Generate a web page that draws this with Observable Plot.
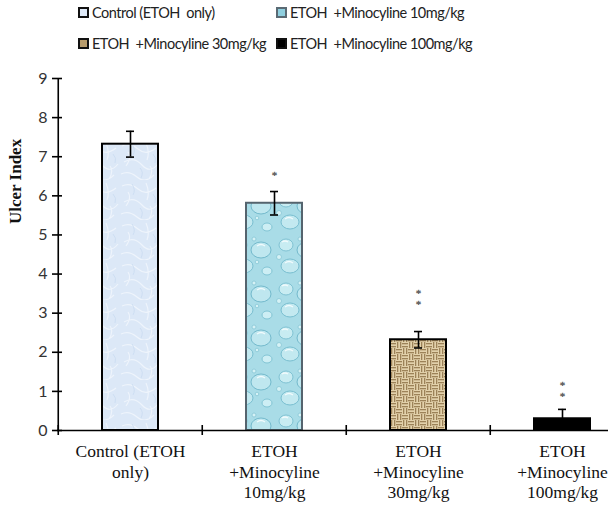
<!DOCTYPE html>
<html>
<head>
<meta charset="utf-8">
<script src="https://cdn.jsdelivr.net/npm/d3@7"></script>
<script src="https://cdn.jsdelivr.net/npm/@observablehq/plot@0.6"></script>
<style>
  html, body { margin: 0; padding: 0; background: #fff; }
  #wrap { position: relative; width: 613px; }
  #legend { position: relative; width: 613px; height: 60px; font-family: Lato, "Open Sans", sans-serif; font-size: 14.5px; letter-spacing: -0.5px; color: #222; }
  .item { position: absolute; display: flex; align-items: center; white-space: pre; }
  .sw { width: 7px; height: 7px; border: 2px solid #111; margin-right: 3px; }
</style>
</head>
<body>
<div id="wrap">
  <div id="legend"></div>
  <div id="chart"></div>
</div>
<script>
const categories = ["Control (ETOH\nonly)", "ETOH\n+Minocyline\n10mg/kg", "ETOH\n+Minocyline\n30mg/kg", "ETOH\n+Minocyline\n100mg/kg"];
const values = [7.32, 5.81, 2.32, 0.30];
const errors = [0.33, 0.30, 0.21, 0.24];
const starCounts = [0, 1, 2, 2];
const starY = [null, 6.57, 3.40, 1.06];
const yTicks = [0, 1, 2, 3, 4, 5, 6, 7, 8, 9];
const legendLabels = ["Control (ETOH  only)", "ETOH  +Minocyline 10mg/kg", "ETOH  +Minocyline 30mg/kg", "ETOH  +Minocyline 100mg/kg"];
const fills = ["url(#pat1)", "url(#pat2)", "url(#pat3)", "#000"];
const strokes = ["#000", "#55646e", "#000", "#000"];
const swatchColors = ["#dfeaf8", "#8fcfdf", "#b89c6c", "#000"];
const swatchBorders = ["#111", "#5a6a74", "#111", "#111"];

const data = categories.map((c, i) => ({
  cat: c, value: values[i], err: errors[i], stars: starCounts[i], starY: starY[i],
  fill: fills[i], stroke: strokes[i]
}));

// legend
const legendPos = [[78, 14], [276, 14], [78, 45], [276, 45]];
const legend = document.getElementById("legend");
legendLabels.forEach((t, i) => {
  const it = document.createElement("div");
  it.className = "item";
  it.style.left = legendPos[i][0] + "px";
  it.style.top = (legendPos[i][1] - 10) + "px";
  const sw = document.createElement("div");
  sw.className = "sw";
  sw.style.background = swatchColors[i];
  sw.style.borderColor = swatchBorders[i];
  const tx = document.createElement("span");
  tx.textContent = t;
  it.appendChild(sw); it.appendChild(tx);
  legend.appendChild(it);
});

const W = 613, H = 446;
const x0 = 57, x1 = 635;
const step = (x1 - x0) / categories.length;

const single = data.filter(d => d.stars === 1);
const double = data.filter(d => d.stars === 2);
const starStyle = {x: "cat", y: "starY", text: () => "*", fontFamily: "Liberation Serif", fontSize: 11, fill: "#555", stroke: "#555", strokeWidth: 0.3};

const chart = Plot.plot({
  width: W,
  height: H,
  marginLeft: 57,
  marginRight: 5,
  marginTop: 18,
  marginBottom: 76,
  style: {background: "#fff", overflow: "visible"},
  x: {domain: categories, range: [x0, x1], paddingInner: 0.6125, paddingOuter: 0.30625, label: null},
  y: {domain: [0, 9], label: null},
  color: {type: "identity"},
  marks: [
    Plot.barY(data, {x: "cat", y: "value", fill: "fill", stroke: "stroke", strokeWidth: 2}),
    Plot.ruleX(data, {x: "cat", y1: d => d.value - d.err, y2: d => d.value + d.err, stroke: "#000", strokeWidth: 1.6}),
    Plot.tickY(data, {x: "cat", y: d => d.value - d.err, stroke: "#000", strokeWidth: 1.6, insetLeft: 24, insetRight: 24}),
    Plot.tickY(data, {x: "cat", y: d => d.value + d.err, stroke: "#000", strokeWidth: 1.6, insetLeft: 24, insetRight: 24}),
    Plot.text(single, {...starStyle, dy: 2}),
    Plot.text(double, {...starStyle, dy: -4}),
    Plot.text(double, {...starStyle, dy: 7}),
    Plot.ruleY([0], {stroke: "#000", strokeWidth: 1.6}),
    Plot.ruleX([categories[0]], {y1: 0, y2: 9, dx: -step / 2, stroke: "#000", strokeWidth: 1.6}),
    Plot.ruleX(categories, {y1: 0, y2: 0, dx: -step / 2, insetTop: -5, insetBottom: -5, stroke: "#000", strokeWidth: 1.6}),
    Plot.axisY({ticks: yTicks, tickSize: 10, dx: 5, tickPadding: 5, strokeWidth: 1.6, stroke: "#000", fontSize: 16, fontFamily: "Lato, sans-serif", fill: "#333", label: null}),
    Plot.axisX({tickSize: 0, tickPadding: 12, fontSize: 17.5, fontFamily: "Liberation Serif", lineHeight: 1.17, fill: "#111", label: null}),
    Plot.text(["Ulcer Index"], {frameAnchor: "left", rotate: -90, dx: -42, dy: -30.5, fontFamily: "Liberation Serif", fontWeight: "bold", fontSize: 17, fill: "#111"})
  ]
});

// decorative fill patterns
const defs = `
<defs>
  <pattern id="pat1" patternUnits="userSpaceOnUse" width="40" height="40">
    <rect width="40" height="40" fill="#dce8f7"/>
    <path d="M2 6 Q10 2 18 9 T36 8 M4 22 Q14 16 22 25 T38 24 M1 34 Q9 30 17 37 T34 35 M8 12 Q12 18 6 26 M26 3 Q30 12 27 20 M30 26 Q34 31 29 39" stroke="#eef4fc" stroke-width="1.2" fill="none"/>
    <path d="M12 4 Q16 10 13 15 M20 28 Q24 32 21 38 M33 14 Q37 18 35 23" stroke="#c9daf0" stroke-width="0.8" fill="none"/>
  </pattern>
  <pattern id="pat2" patternUnits="userSpaceOnUse" width="46" height="44">
    <rect width="46" height="44" fill="#a9dce7"/>
    <ellipse cx="10" cy="9" rx="7" ry="6" fill="#c8ecf2" stroke="#7fc2d3" stroke-width="1"/>
    <ellipse cx="31" cy="14" rx="10" ry="8" fill="#bfe7ef" stroke="#72b9cc" stroke-width="1"/>
    <ellipse cx="14" cy="30" rx="9" ry="7" fill="#c3e9f0" stroke="#78bed0" stroke-width="1"/>
    <ellipse cx="37" cy="35" rx="5" ry="4" fill="#cdeef4" stroke="#80c4d4" stroke-width="1"/>
    <circle cx="24" cy="3" r="2" fill="#d6f2f6" stroke="#86c7d6" stroke-width="0.8"/>
    <circle cx="3" cy="21" r="2.5" fill="#d6f2f6" stroke="#86c7d6" stroke-width="0.8"/>
    <circle cx="27" cy="26" r="1.8" fill="#d6f2f6" stroke="#86c7d6" stroke-width="0.8"/>
    <path d="M27 10 q4 -3 8 0 M9 27 q4 -3 8 0 M6 6 q3 -2 6 0" stroke="#f2fbfd" stroke-width="1.3" fill="none"/>
  </pattern>
  <pattern id="pat3" patternUnits="userSpaceOnUse" width="12" height="12">
    <rect width="12" height="12" fill="#e2d1ab"/>
    <rect x="0" y="1" width="6" height="1.3" fill="#9c8258"/>
    <rect x="0" y="4" width="6" height="1.3" fill="#9c8258"/>
    <rect x="7" y="0" width="1.3" height="6" fill="#9c8258"/>
    <rect x="10" y="0" width="1.3" height="6" fill="#9c8258"/>
    <rect x="1" y="6" width="1.3" height="6" fill="#9c8258"/>
    <rect x="4" y="6" width="1.3" height="6" fill="#9c8258"/>
    <rect x="6" y="7" width="6" height="1.3" fill="#9c8258"/>
    <rect x="6" y="10" width="6" height="1.3" fill="#9c8258"/>
  </pattern>
</defs>`;
chart.insertAdjacentHTML("afterbegin", defs);
document.getElementById("chart").appendChild(chart);
</script>
</body>
</html>
